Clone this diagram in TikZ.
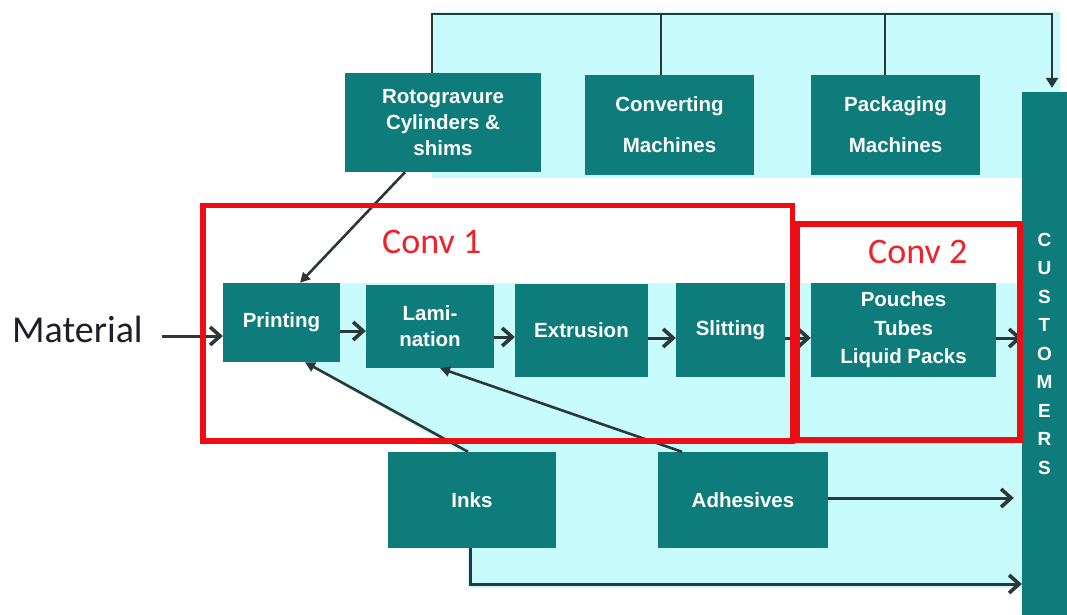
\documentclass[tikz,border=0pt]{standalone}
\usepackage{fontspec}
\setmainfont{Liberation Sans}
\newfontfamily\calibri{Carlito}
\usetikzlibrary{arrows.meta}
\definecolor{boxteal}{RGB}{14,124,122}
\definecolor{paleaqua}{RGB}{200,251,251}
\definecolor{wirecol}{RGB}{45,55,56}
\definecolor{framered}{RGB}{236,14,20}
\definecolor{labelred}{RGB}{242,32,42}
\definecolor{inktext}{RGB}{30,30,40}
\begin{document}
\begin{tikzpicture}[x=1pt,y=-1pt,
  box/.style={fill=boxteal, text=white, inner sep=0pt, align=center,
    font=\bfseries\fontsize{20.5}{26}\selectfont},
  wire/.style={draw=wirecol, line width=2.6pt},
  flow/.style={wire, line width=3pt,
    -{Straight Barb[length=10pt,width=18pt,line width'=3.6pt]}},
  feed/.style={wire, -{Triangle[length=10pt,width=10pt]}},
  frame/.style={draw=framered, line width=5.5pt},
  convlabel/.style={text=labelred, font=\calibri\fontsize{36}{36}\selectfont,
    inner sep=0pt, anchor=base west}
]
\useasboundingbox (0,0) rectangle (1067,615);
\fill[white] (0,0) rectangle (1067,615);

% pale background bands
\fill[paleaqua] (432,12) rectangle (1060,178);
\fill[paleaqua] (303,283) -- (1022,283) -- (1022,588) -- (468,588)
  -- (468,452) -- (460,452) -- (303,362) -- cycle;

% supplier boxes on top
\node[box, minimum width=196pt, minimum height=99pt] (roto) at (443,122.5)
  {Rotogravure\\Cylinders \&\\shims};
\node[box, minimum width=169pt, minimum height=100pt] (conv) at (669.5,125)
  {Converting\\[15pt]Machines};
\node[box, minimum width=169pt, minimum height=100pt] (pack) at (895.5,125)
  {Packaging\\[15pt]Machines};

% process chain
\node[box, minimum width=117pt, minimum height=79pt] (print) at (281.5,322.5) {Printing};
\node[box, minimum width=128pt, minimum height=83pt] (lam) at (430,326.5) {Lami-\\nation};
\node[box, minimum width=133pt, minimum height=93pt] (extr) at (581.5,330.5) {Extrusion};
\node[box, minimum width=109pt, minimum height=94pt] (slit) at (730.5,330) {Slitting};
\node[box, minimum width=185pt, minimum height=94pt,
  font=\bfseries\fontsize{20.5}{28.5}\selectfont] (pouch) at (903.5,330)
  {Pouches\\Tubes\\Liquid Packs};

% consumables
\node[box, minimum width=168pt, minimum height=96pt] (inks) at (472,500) {Inks};
\node[box, minimum width=170pt, minimum height=96pt] (adh) at (743,500) {Adhesives};

% customers bar
\node[box, minimum width=45pt, minimum height=523pt,
  font=\bfseries\fontsize{19}{28.5}\selectfont] (cust) at (1044.5,353.5)
  {C\\U\\S\\T\\O\\M\\E\\R\\S};

% input material
\node[text=inktext, font=\calibri\fontsize{38}{38}\selectfont, inner sep=0pt,
  anchor=base west] (mat) at (12,342) {Material};
\coordinate (matout) at (162,336);

% equipment bus to customers
\coordinate (busL) at (432,14);
\coordinate (busA) at (661,14);
\coordinate (busB) at (885,14);
\coordinate (busR) at (1052,14);
\draw[wire, -{Triangle[length=10pt,width=12pt]}, shorten >=4pt]
  (roto.north -| busL) -- (busL) -- (busR) -- (cust.north -| busR);
\draw[wire] (conv.north -| busA) -- (busA);
\draw[wire] (pack.north -| busB) -- (busB);

% main flow
\draw[flow] (matout) -- (print.west |- matout);
\draw[flow] (print.east |- 0,331) -- (lam.west |- 0,331);
\draw[flow] (lam.east |- 0,337) -- (extr.west |- 0,337);
\draw[flow] (extr.east |- 0,338) -- (slit.west |- 0,338);
\draw[flow] (slit.east |- 0,338) -- (pouch.west |- 0,338);
\draw[flow] (pouch.east |- 0,338) -- (cust.west |- 0,338);

% supplies feeding the process
\draw[feed] (roto.south -| 405,0) -- (print.north -| 300,0);
\draw[feed] (inks.north -| 468,0) -- (print.south -| 305,0);
\draw[feed] (adh.north -| 682,0) -- (lam.south -| 440,0);

% direct supplies to customers
\draw[flow, shorten >=8pt] (adh.east |- 0,498) -- (cust.west |- 0,498);
\draw[flow] (inks.south -| 470,0) |- (cust.west |- 0,584);

% converter groups
\draw[frame] (203,205.5) rectangle (792.5,441);
\draw[frame] (797.5,224) rectangle (1020,440);
\node[convlabel] (c1) at (382,253) {Conv 1};
\node[convlabel] (c2) at (868,263) {Conv 2};
\end{tikzpicture}
\end{document}
